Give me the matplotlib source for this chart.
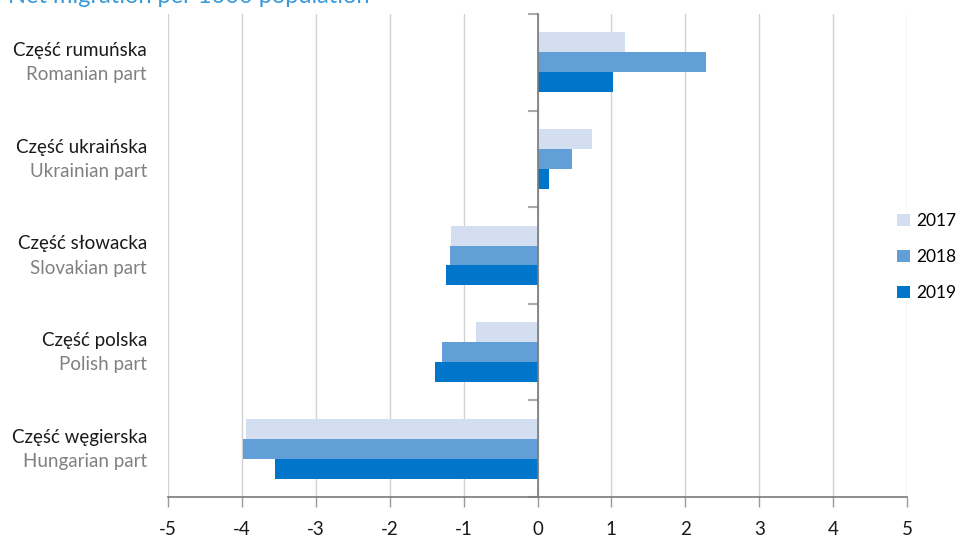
import matplotlib
matplotlib.use("Agg")
import matplotlib.pyplot as plt
import matplotlib.transforms as mtransforms
from matplotlib.patches import Patch
import numpy as np

plt.rcParams['font.family'] = ['Lato', 'DejaVu Sans']

regions_pl = ["Część rumuńska", "Część ukraińska", "Część słowacka", "Część polska", "Część węgierska"]
regions_en = ["Romanian part", "Ukrainian part", "Slovakian part", "Polish part", "Hungarian part"]
years = ["2017", "2018", "2019"]
v2017 = [1.18, 0.74, -1.17, -0.83, -3.95]
v2018 = [2.28, 0.47, -1.18, -1.29, -3.98]
v2019 = [1.02, 0.16, -1.24, -1.39, -3.55]
xticks = [-5, -4, -3, -2, -1, 0, 1, 2, 3, 4, 5]

colors = ["#d3dff0", "#619fd6", "#0075c9"]
series = [v2017, v2018, v2019]

W, H = 959, 539
FS = 13.5
fig = plt.figure(figsize=(W / 100, H / 100), dpi=100)
ax = fig.add_axes([168 / W, 1 - 497 / H, (907 - 168) / W, (497 - 14) / H])

n = len(regions_pl)
centers = np.arange(n)
bh = 0.207
for k, (vals, c) in enumerate(zip(series, colors)):
    ax.barh(centers + (k - 1) * bh, vals, height=bh, color=c, label=years[k], zorder=3, linewidth=0)

ax.set_xlim(-5, 5)
ax.set_ylim(n - 0.5, -0.5)

# vertical grid
for x in xticks:
    ax.axvline(x, color="#d2d2d2", linewidth=1.0, zorder=1)

for s in ["top", "right"]:
    ax.spines[s].set_visible(False)
ax.spines["left"].set_position(("data", 0))
ax.spines["left"].set_color("#7a7a7a")
ax.spines["left"].set_linewidth(1.2)
ax.spines["left"].set_zorder(4)
ax.spines["bottom"].set_color("#7a7a7a")
ax.spines["bottom"].set_linewidth(1.2)

ax.set_xticks(xticks)
ax.set_xticklabels([str(x) for x in xticks], fontsize=FS, color="#1a1a1a")
ax.tick_params(axis="x", direction="out", length=7, width=1, color="#9a9a9a", pad=10)

ax.set_yticks(np.arange(n + 1) - 0.5)
ax.set_yticklabels([])
ax.tick_params(axis="y", direction="out", length=7, width=1.5, color="#aaaaaa")

trans = mtransforms.blended_transform_factory(fig.transFigure, ax.transData)
for i in range(n):
    ax.text(147 / W, i - 0.12, regions_pl[i], transform=trans, ha="right", va="center",
            fontsize=FS, color="#1a1a1a")
    ax.text(147 / W, i + 0.13, regions_en[i], transform=trans, ha="right", va="center",
            fontsize=FS, color="#808080")

handles = [Patch(facecolor=c, edgecolor="none") for c in colors]
leg = fig.legend(handles, years, loc="center left", bbox_to_anchor=(897 / W, 1 - 257 / H),
                 frameon=True, fontsize=12.5, handlelength=0.75, handleheight=0.75,
                 handletextpad=0.35, labelspacing=1.15, borderpad=0.0, borderaxespad=0)
leg.get_frame().set_edgecolor("none")
leg.get_frame().set_facecolor("white")
leg.get_frame().set_alpha(1.0)

fig.text(8 / W, 1 - 3 / H, "Net migration per 1000 population", ha="left", va="baseline",
         fontsize=17, color="#3a9ad9")

fig.savefig("out.png", dpi=100)
